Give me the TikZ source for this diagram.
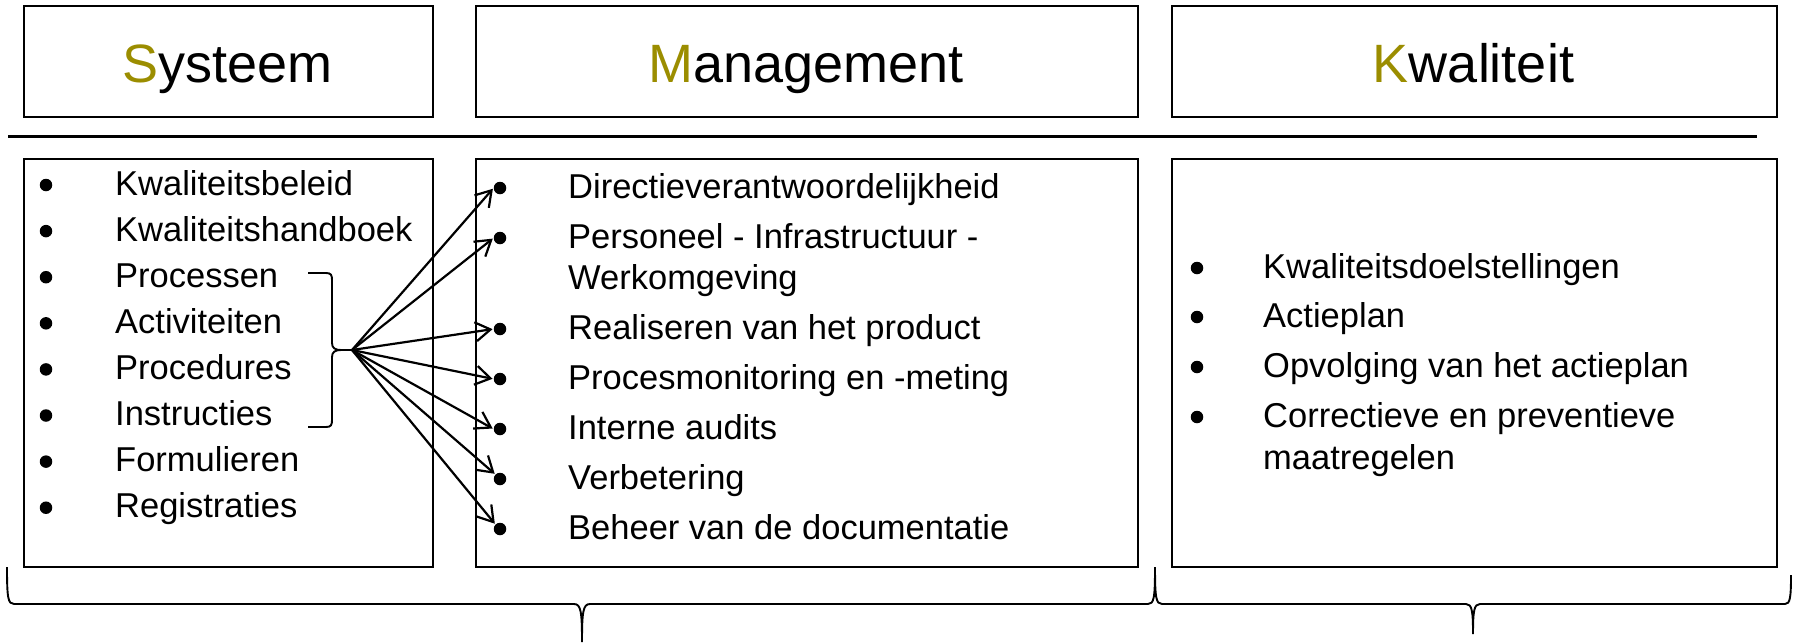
\documentclass[tikz,border=0pt]{standalone}
\usepackage{fontspec}
\setmainfont{Liberation Sans}
\usetikzlibrary{arrows.meta,calc}
\definecolor{kolive}{RGB}{155,141,0}
\begin{document}
\begin{tikzpicture}[x=1pt,y=-1pt,
  boxst/.style={draw=black,line width=2.2pt,inner sep=0pt,anchor=north west},
  titletext/.style={anchor=base,inner sep=0pt,font=\fontsize{54}{60}\selectfont},
  itemtext/.style={anchor=base west,inner sep=0pt,font=\fontsize{34.5}{40}\selectfont},
  dot/.style={circle,fill=black,inner sep=0pt,minimum size=12.5pt},
  fanarrow/.style={line width=2.2pt,-{Straight Barb[length=15pt,width=19pt,line width=2.2pt]},shorten >=1pt},
  bracestyle/.style={line width=1.9pt}]
\useasboundingbox (0,0) rectangle (1796,643);

% top title boxes
\node[boxst,minimum width=409pt,minimum height=111pt] (sysT) at (23,5) {};
\node[boxst,minimum width=662pt,minimum height=111pt] (mgtT) at (475,5) {};
\node[boxst,minimum width=605pt,minimum height=111pt] (kwaT) at (1171,5) {};
\node[titletext] (sysTitle) at (227.5,82) {\textcolor{kolive}{S}ysteem};
\node[titletext] (mgtTitle) at (806,82) {\textcolor{kolive}{M}anagement};
\node[titletext] (kwaTitle) at (1473.5,82) {\textcolor{kolive}{K}waliteit};

% separator line
\coordinate (lineL) at (8,136);
\coordinate (lineR) at (1757,136);
\draw[line width=3pt] (lineL) -- (lineR);

% lower boxes
\node[boxst,minimum width=409pt,minimum height=408pt] (sysB) at (23,158) {};
\node[boxst,minimum width=662pt,minimum height=408pt] (mgtB) at (475,158) {};
\node[boxst,minimum width=605pt,minimum height=408pt] (kwaB) at (1171,158) {};

% Systeem list
\foreach \t [count=\i] in {Kwaliteitsbeleid,Kwaliteitshandboek,Processen,Activiteiten,Procedures,Instructies,Formulieren,Registraties}{
  \node[dot] (sd\i) at (46,{185+46.1*(\i-1)}) {};
  \node[itemtext] (st\i) at (115,{195+46.1*(\i-1)}) {\t};
}

% Management list
\node[dot] (md1) at (500,188) {};
\node[itemtext] (mt1) at (568,198) {Directieverantwoordelijkheid};
\node[dot] (md2) at (500,238) {};
\node[itemtext] (mt2) at (568,248) {Personeel - Infrastructuur -};
\node[itemtext] (mt2b) at (568,289) {Werkomgeving};
\node[dot] (md3) at (500,329) {};
\node[itemtext] (mt3) at (568,339) {Realiseren van het product};
\node[dot] (md4) at (500,379) {};
\node[itemtext] (mt4) at (568,389) {Procesmonitoring en -meting};
\node[dot] (md5) at (500,429) {};
\node[itemtext] (mt5) at (568,439) {Interne audits};
\node[dot] (md6) at (500,479) {};
\node[itemtext] (mt6) at (568,489) {Verbetering};
\node[dot] (md7) at (500,529) {};
\node[itemtext] (mt7) at (568,539) {Beheer van de documentatie};

% Kwaliteit list
\node[dot] (kd1) at (1197,268) {};
\node[itemtext] (kt1) at (1263,278) {Kwaliteitsdoelstellingen};
\node[dot] (kd2) at (1197,317) {};
\node[itemtext] (kt2) at (1263,327) {Actieplan};
\node[dot] (kd3) at (1197,367) {};
\node[itemtext] (kt3) at (1263,377) {Opvolging van het actieplan};
\node[dot] (kd4) at (1197,417) {};
\node[itemtext] (kt4) at (1263,427) {Correctieve en preventieve};
\node[itemtext] (kt4b) at (1263,469) {maatregelen};

% bracket grouping Processen..Instructies
\coordinate (fan) at (352,350);
\draw[bracestyle]
  (308,273) -- (326,273) .. controls (331,273) and (332,275) .. (332,280)
  -- (332,343) .. controls (332,348) and (335,350) .. (341,350) -- (fan);
\draw[bracestyle]
  (308,427) -- (326,427) .. controls (331,427) and (332,425) .. (332,420)
  -- (332,357) .. controls (332,352) and (335,350) .. (341,350);

% arrows
\foreach \i in {1,2,3,4,5}{
  \draw[fanarrow] (fan) -- (md\i.west);
}
\foreach \i in {6,7}{
  \draw[fanarrow] (fan) -- (md\i.north west);
}

% bottom braces
\draw[bracestyle]
  (7,567) .. controls (7,598) and (8,604) .. (14,604) -- (574,604)
  .. controls (581,604) and (582,612) .. (582,642)
  .. controls (582,612) and (583,604) .. (590,604) -- (1148,604)
  .. controls (1154,604) and (1155,598) .. (1155,567);
\draw[bracestyle]
  (1155,567) .. controls (1155,598) and (1156,604) .. (1162,604) -- (1466,604)
  .. controls (1472,604) and (1473,611) .. (1473,634)
  .. controls (1473,611) and (1474,604) .. (1480,604) -- (1785,604)
  .. controls (1790,604) and (1791,598) .. (1791,575);
\end{tikzpicture}
\end{document}
